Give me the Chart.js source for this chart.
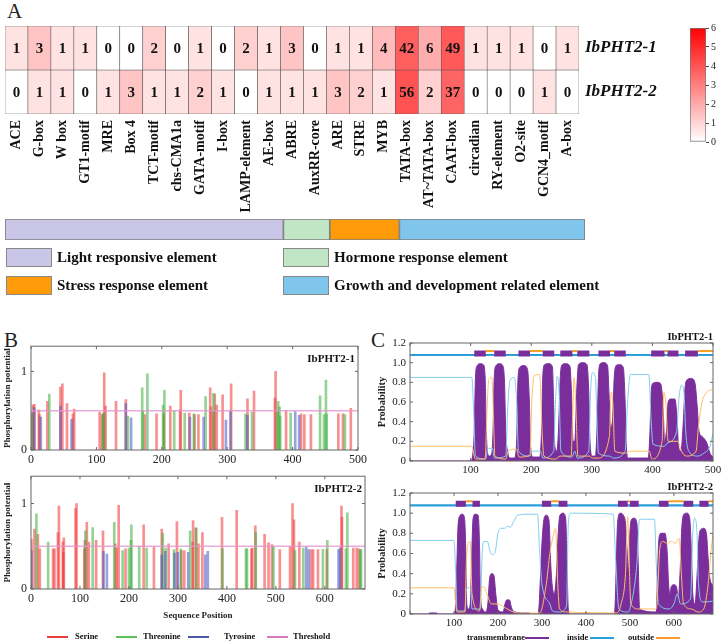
<!DOCTYPE html>
<html>
<head>
<meta charset="utf-8">
<script src="https://cdn.jsdelivr.net/npm/chart.js@4.4.1/dist/chart.umd.min.js"></script>
<style>
  body { margin: 0; background: #fff; font-family: "Liberation Serif", serif; }
  #page { position: relative; width: 725px; height: 644px; overflow: hidden; }
  .box { position: absolute; }
  .panel { position: absolute; font-size: 21px; line-height: 21px; color: #222; }
  .lbl { position: absolute; font-weight: bold; white-space: nowrap; color: #111; }
  .sq { position: absolute; box-sizing: border-box; border: 1.5px solid #888; }
  .ln { position: absolute; height: 1.5px; }
</style>
</head>
<body>
<div id="page">
  <div class="panel" style="left:7px;top:1px">A</div>
  <div class="panel" style="left:4px;top:330px">B</div>
  <div class="panel" style="left:371px;top:330px">C</div>

  <div class="box" style="left:0;top:0;width:690px;height:222px"><canvas id="heat"></canvas></div>
  <div class="box" style="left:684px;top:20px;width:41px;height:130px"><canvas id="cbar"></canvas></div>
  <div class="box" style="left:0;top:212px;width:725px;height:34px"><canvas id="groups"></canvas></div>
  <div id="groupLegend"></div>

  <div class="box" style="left:0;top:335px;width:370px;height:135px"><canvas id="phos1"></canvas></div>
  <div class="box" style="left:0;top:465px;width:370px;height:160px"><canvas id="phos2"></canvas></div>
  <div id="phosLegend"></div>

  <div class="box" style="left:368px;top:330px;width:357px;height:150px"><canvas id="tm1"></canvas></div>
  <div class="box" style="left:368px;top:480px;width:357px;height:150px"><canvas id="tm2"></canvas></div>
  <div id="tmLegend"></div>
</div>

<script>
// ---------- A: cis-element heatmap ----------
var heatCols = ['ACE', 'G-box', 'W box', 'GT1-motif', 'MRE', 'Box 4', 'TCT-motif', 'chs-CMA1a', 'GATA-motif',
  'I-box', 'LAMP-element', 'AE-box', 'ABRE', 'AuxRR-core', 'ARE', 'STRE', 'MYB', 'TATA-box', 'AT~TATA-box',
  'CAAT-box', 'circadian', 'RY-element', 'O2-site', 'GCN4_motif', 'A-box']
var heatRows = ['IbPHT2-1', 'IbPHT2-2']
var counts1 = [1, 3, 1, 1, 0, 0, 2, 0, 1, 0, 2, 1, 3, 0, 1, 1, 4, 42, 6, 49, 1, 1, 1, 0, 1]
var counts2 = [0, 1, 1, 0, 1, 3, 1, 1, 2, 1, 0, 1, 1, 1, 3, 2, 1, 56, 2, 37, 0, 0, 0, 1, 0]
var colorMax = 6

var groupNames = ['Light responsive element', 'Hormone response element', 'Stress response element', 'Growth and development related element']
var groupSizes = [12, 2, 3, 8]
var groupColors = ['#c9c6e7', '#c1e6c6', '#ff9a08', '#80c5ec']

// ---------- B: phosphorylation sites [position, potential] ----------
var serine1 = [[1,0.47],[3,0.57],[5,0.58],[12,0.51],[13,0.45],[25,0.62],[45,0.8],[48,0.84],[55,0.59],[64,0.46],[66,0.52],
  [105,0.48],[109,0.45],[112,0.98],[114,0.56],[130,0.62],[145,0.64],[174,0.45],[192,0.46],[203,0.46],[213,0.56],
  [228,0.51],[229,0.76],[242,0.47],[250,0.45],[256,0.45],[274,0.79],[275,0.55],[279,0.49],[281,0.71],[284,0.57],
  [293,0.7],[306,0.84],[331,0.65],[341,0.75],[373,0.66],[374,1.0],[390,0.5],[413,0.46],[418,0.45],[428,0.45],
  [470,0.46],[477,0.46],[489,0.53]]
var threonine1 = [[2,0.46],[28,0.71],[110,0.46],[111,0.47],[148,0.43],[170,0.79],[171,0.5],[178,0.97],[202,0.57],
  [204,0.76],[219,0.5],[235,0.47],[249,0.46],[267,0.68],[279,0.72],[328,0.46],[338,0.48],[377,0.49],[378,0.62],
  [380,0.55],[381,0.43],[397,0.47],[442,0.69],[448,0.45],[451,0.89],[452,0.46],[480,0.45]]
var tyrosine1 = [[5,0.54],[15,0.42],[45,0.56],[62,0.39],[145,0.59],[153,0.41],[243,0.42],[264,0.42],[298,0.38],
  [305,0.5],[331,0.44],[404,0.49],[410,0.44]]

var serine2 = [[1,0.58],[7,0.7],[14,0.64],[18,0.47],[45,0.47],[48,0.47],[55,0.66],[57,0.97],[65,0.55],[66,0.43],
  [67,0.6],[91,0.94],[93,1.0],[109,0.47],[110,0.57],[114,0.78],[118,0.55],[133,0.57],[147,0.68],[172,0.53],
  [175,0.48],[179,0.98],[193,0.47],[230,0.75],[251,0.49],[267,0.7],[281,0.53],[298,0.79],[307,0.45],[313,0.45],
  [330,0.55],[331,0.8],[337,0.71],[342,0.53],[350,0.66],[390,0.84],[420,0.92],[450,0.47],[452,0.48],[458,0.74],
  [477,0.64],[485,0.54],[492,0.52],[508,0.46],[529,0.5],[534,1.0],[537,0.81],[548,0.55],[572,0.46],[576,0.46],
  [586,0.46],[604,0.46],[634,0.97],[635,0.84],[658,0.48],[665,0.48],[670,0.47]]
var threonine2 = [[11,0.88],[35,0.55],[111,0.68],[126,0.72],[170,0.78],[187,0.45],[200,0.48],[204,0.57],[205,0.75],
  [221,0.5],[236,0.48],[269,0.65],[275,0.48],[292,0.46],[306,0.47],[325,0.68],[337,0.72],[391,0.47],[439,0.47],
  [441,0.47],[459,0.66],[495,0.5],[539,0.45],[556,0.48],[596,0.46],[605,0.57],[643,0.47],[646,0.89],[672,0.46],[674,0.46]]
var tyrosine2 = [[1,0.45],[148,0.44],[155,0.41],[267,0.4],[274,0.44],[293,0.42],[300,0.43],[321,0.43],[356,0.4],
  [361,0.44],[562,0.49],[567,0.46],[628,0.46],[631,0.48]]
var threshold = 0.5
var phosNames = ['Serine', 'Threonine', 'Tyrosine', 'Threshold']

// ---------- C: transmembrane prediction [position, probability] ----------
var tmProb1 = [[0,0],[100,0],[103,0.04],[106,0.3],[108,0.85],[111,0.97],[116,0.99],[121,0.98],[124,0.85],[126,0.3],
  [128,0.08],[131,0.05],[135,0.08],[137,0.3],[139,0.85],[142,0.97],[148,0.99],[153,0.97],[156,0.8],[158,0.3],
  [161,0.1],[165,0.03],[172,0.03],[176,0.2],[178,0.8],[181,0.95],[188,0.97],[194,0.93],[197,0.6],[199,0.15],
  [203,0.04],[214,0.04],[217,0.3],[219,0.85],[222,0.98],[229,0.99],[235,0.96],[237,0.6],[239,0.15],[242,0.1],
  [245,0.3],[248,0.85],[251,0.98],[257,0.99],[264,0.96],[267,0.6],[269,0.2],[272,0.2],[275,0.7],[278,0.98],
  [285,1.0],[292,0.98],[295,0.7],[297,0.2],[301,0.05],[306,0.05],[309,0.4],[311,0.85],[314,0.99],[320,1.0],
  [326,0.97],[329,0.6],[331,0.35],[334,0.4],[337,0.85],[340,0.97],[346,0.98],[352,0.95],[355,0.6],[357,0.15],
  [360,0.03],[393,0.03],[396,0.3],[398,0.7],[401,0.79],[408,0.8],[414,0.78],[418,0.5],[420,0.2],[423,0.3],
  [426,0.6],[430,0.63],[437,0.63],[441,0.4],[443,0.15],[447,0.1],[451,0.4],[454,0.75],[458,0.83],[464,0.84],
  [470,0.8],[474,0.55],[477,0.3],[482,0.25],[490,0.18],[495,0.08],[500,0.04]]
var inside1 = [[0,0.85],[102,0.85],[105,0.5],[108,0.05],[125,0.02],[128,0.12],[136,0.13],[139,0.03],[158,0.05],
  [161,0.5],[165,0.82],[172,0.85],[176,0.6],[179,0.1],[198,0.05],[201,0.1],[216,0.1],[219,0.03],[237,0.1],
  [240,0.6],[243,0.86],[246,0.7],[249,0.1],[267,0.04],[272,0.1],[276,0.03],[295,0.1],[298,0.7],[301,0.9],
  [306,0.85],[309,0.3],[311,0.08],[329,0.05],[336,0.03],[355,0.1],[359,0.6],[364,0.88],[394,0.88],[398,0.4],
  [401,0.17],[420,0.15],[424,0.18],[440,0.3],[444,0.65],[448,0.77],[452,0.7],[455,0.3],[460,0.1],[475,0.05],
  [485,0.08],[495,0.15],[500,0.28]]
var outside1 = [[0,0.15],[102,0.15],[105,0.08],[108,0.02],[124,0.02],[127,0.5],[130,0.83],[135,0.85],[138,0.4],
  [140,0.05],[158,0.02],[162,0.1],[176,0.12],[180,0.04],[198,0.06],[201,0.6],[205,0.87],[214,0.88],[218,0.3],
  [221,0.05],[240,0.02],[248,0.05],[266,0.05],[268,0.4],[271,0.85],[274,0.5],[277,0.05],[296,0.05],[301,0.03],
  [310,0.03],[329,0.25],[332,0.7],[335,0.55],[338,0.1],[356,0.08],[362,0.1],[395,0.1],[399,0.02],[416,0.2],
  [419,0.7],[422,0.6],[426,0.2],[442,0.2],[448,0.1],[456,0.05],[472,0.1],[476,0.35],[482,0.6],[490,0.7],[500,0.73]]
var tmSegs1 = [[106,125],[139,158],[179,198],[219,238],[248,268],[276,296],[311,330],[337,356],[398,420],[425,443],[454,475]]
var outSegs1 = [[125,139],[198,219],[268,276],[330,337],[420,425],[475,500]]
var length1 = 500

var tmProb2 = [[0,0],[40,0],[45,0.01],[60,0.01],[65,0],[100,0],[103,0.05],[106,0.4],[109,0.85],[113,0.97],
  [119,0.99],[124,0.95],[127,0.6],[129,0.1],[133,0.05],[137,0.1],[140,0.5],[143,0.93],[148,0.99],[155,0.98],
  [158,0.7],[160,0.2],[165,0.05],[172,0.02],[177,0.1],[181,0.35],[186,0.4],[191,0.38],[195,0.2],[200,0.04],
  [212,0.02],[216,0.1],[220,0.14],[226,0.14],[231,0.06],[238,0.02],[265,0.01],[270,0.01],[275,0],[290,0],
  [293,0.05],[297,0.4],[300,0.7],[305,0.95],[310,0.98],[316,0.93],[320,0.5],[323,0.3],[328,0.2],[333,0.4],
  [337,0.8],[341,0.98],[348,1.0],[354,0.95],[357,0.5],[360,0.05],[365,0],[465,0],[468,0.3],[472,0.9],[478,1.0],
  [485,0.98],[490,0.9],[494,0.6],[497,0.4],[500,0.8],[504,0.94],[510,0.95],[516,0.9],[519,0.5],[522,0.05],
  [560,0.02],[563,0.4],[566,0.75],[571,0.8],[580,0.8],[585,0.6],[588,0.3],[591,0.2],[594,0.27],[600,0.29],
  [606,0.27],[610,0.15],[614,0.4],[618,0.85],[623,0.99],[630,1.0],[636,0.95],[640,0.6],[643,0.2],[648,0.1],
  [653,0.4],[657,0.75],[662,0.84],[668,0.85],[674,0.8],[678,0.55],[682,0.35],[686,0.3],[689,0.28]]
var inside2 = [[0,0.73],[100,0.73],[104,0.4],[107,0.03],[125,0.03],[128,0.25],[138,0.26],[141,0.05],[160,0.05],
  [164,0.6],[168,0.72],[176,0.72],[182,0.62],[188,0.59],[194,0.62],[200,0.8],[207,0.85],[215,0.85],[222,0.87],
  [228,0.86],[236,0.92],[245,0.98],[270,0.99],[290,0.99],[295,0.6],[300,0.3],[318,0.1],[324,0.03],[340,0.02],
  [356,0.08],[360,0.9],[365,1.0],[462,0.99],[468,0.5],[475,0.05],[495,0.02],[500,0.05],[516,0.5],[522,0.94],
  [556,0.94],[560,0.5],[565,0.1],[590,0.05],[600,0.1],[608,0.2],[615,0.1],[638,0.15],[643,0.8],[647,0.95],
  [652,0.85],[656,0.3],[665,0.12],[675,0.12],[689,0.13]]
var outside2 = [[0,0.26],[100,0.26],[104,0.1],[107,0.02],[125,0.02],[128,0.5],[132,0.7],[137,0.72],[141,0.2],
  [158,0.03],[163,0.27],[168,0.27],[175,0.2],[185,0.1],[198,0.1],[210,0.08],[225,0.04],[245,0.01],[295,0.01],
  [310,0.3],[318,0.6],[326,0.78],[331,0.85],[336,0.3],[340,0.05],[356,0.02],[470,0.01],[480,0.1],[490,0.4],
  [495,0.97],[498,0.6],[502,0.1],[520,0.05],[560,0.05],[564,0.3],[568,0.65],[575,0.72],[585,0.7],[595,0.72],
  [603,0.7],[612,0.75],[617,0.4],[622,0.1],[640,0.05],[655,0.02],[668,0.05],[678,0.3],[684,0.6],[689,0.8]]
var tmSegs2 = [[104,127],[142,159],[300,321],[338,358],[473,495],[500,520],[566,588],[622,644],[658,679]]
var outSegs2 = [[127,142],[321,338],[495,500],[588,622],[679,689]]
var length2 = 689
var tmNames = ['transmembrane', 'inside', 'outside']

// ---------- shared settings ----------
Chart.defaults.font.family = '"Liberation Serif", serif'
Chart.defaults.color = '#222'
Chart.defaults.animation = false
Chart.defaults.plugins.legend.display = false
Chart.defaults.plugins.tooltip.enabled = false
Chart.defaults.events = []
Chart.defaults.maintainAspectRatio = false

var PURPLE = '#7a2e9b'

function heatColor(v) {
  var t = Math.min(Math.log(v + 1) / colorMax, 1)
  var g = Math.round(255 - 255 * t)
  return 'rgb(255,' + g + ',' + g + ')'
}
function xy(arr) { return arr.map(p => ({ x: p[0], y: p[1] })) }

// writes the count into each heatmap cell
var cellText = {
  id: 'cellText',
  afterDatasetsDraw(chart) {
    var ctx = chart.ctx
    ctx.save()
    ctx.font = 'bold 15px "Liberation Serif"'
    ctx.fillStyle = '#111'
    ctx.textAlign = 'center'
    ctx.textBaseline = 'middle'
    var rows = [counts1, counts2]
    chart.data.datasets.forEach((ds, di) => {
      chart.getDatasetMeta(di).data.forEach((bar, i) => {
        ctx.fillText(rows[di][i], bar.x, (bar.y + bar.base) / 2 + 1)
      })
    })
    ctx.restore()
  }
}

// box around the plot with inward ticks, plus a name in a corner
var frame = {
  id: 'frame',
  afterDraw(chart, args, opts) {
    var ctx = chart.ctx, a = chart.chartArea, sx = chart.scales.x, sy = chart.scales.y
    ctx.save()
    ctx.strokeStyle = '#666'
    ctx.lineWidth = 1
    ctx.strokeRect(a.left, a.top, a.right - a.left, a.bottom - a.top)
    ctx.beginPath()
    sx.ticks.forEach(t => {
      var px = sx.getPixelForValue(t.value)
      ctx.moveTo(px, a.bottom); ctx.lineTo(px, a.bottom - 3)
      ctx.moveTo(px, a.top); ctx.lineTo(px, a.top + 3)
    })
    sy.ticks.forEach(t => {
      var py = sy.getPixelForValue(t.value)
      ctx.moveTo(a.left, py); ctx.lineTo(a.left + 3, py)
      ctx.moveTo(a.right, py); ctx.lineTo(a.right - 3, py)
    })
    ctx.stroke()
    if (opts.name) {
      ctx.font = 'bold ' + opts.size + 'px "Liberation Serif"'
      ctx.fillStyle = '#111'
      ctx.textAlign = 'right'
      ctx.textBaseline = 'middle'
      ctx.fillText(opts.name, a.right - opts.dx, a.top + opts.dy)
    }
    ctx.restore()
  }
}

// ---------- A: heatmap ----------
new Chart(document.getElementById('heat'), {
  type: 'bar',
  data: {
    labels: heatCols,
    datasets: [counts1, counts2].map((vals, r) => ({
      data: vals.map(() => [1 - r, 2 - r]),
      backgroundColor: vals.map(heatColor),
      borderColor: '#555',
      borderWidth: 0.6,
      borderSkipped: false,
      barPercentage: 1,
      categoryPercentage: 1,
      grouped: false
    }))
  },
  options: {
    layout: { padding: { left: 5, top: 26 } },
    scales: {
      x: {
        grid: { display: false, drawTicks: false },
        border: { display: false },
        ticks: { minRotation: 90, maxRotation: 90, autoSkip: false, padding: 6, color: '#111', font: { size: 14, weight: 'bold' } },
        afterFit: s => { s.height = 108 }
      },
      y: {
        position: 'right', min: 0, max: 2,
        grid: { display: false, drawTicks: false },
        border: { display: false },
        afterBuildTicks: s => { s.ticks = [{ value: 1.5 }, { value: 0.5 }] },
        ticks: { padding: 6, color: '#111', font: { size: 17, weight: 'bold', style: 'italic' }, callback: v => v > 1 ? heatRows[0] : heatRows[1] },
        afterFit: s => { s.width = 111 }
      }
    }
  },
  plugins: [cellText]
})

// colour bar
new Chart(document.getElementById('cbar'), {
  type: 'bar',
  data: {
    labels: [''],
    datasets: [{
      data: [[0, colorMax]],
      backgroundColor: c => {
        var a = c.chart.chartArea
        if (!a) return '#fff'
        var g = c.chart.ctx.createLinearGradient(0, a.bottom, 0, a.top)
        g.addColorStop(0, '#ffffff')
        g.addColorStop(1, '#ff0000')
        return g
      },
      borderColor: '#777', borderWidth: 1, borderSkipped: false,
      barPercentage: 1, categoryPercentage: 1
    }]
  },
  options: {
    layout: { padding: { left: 6, top: 7, bottom: 7 } },
    scales: {
      x: { display: false },
      y: {
        position: 'right', min: 0, max: colorMax,
        grid: { drawOnChartArea: false, tickLength: 3, color: '#444' },
        border: { display: false },
        ticks: { stepSize: 1, padding: 2, font: { size: 10 } },
        afterFit: s => { s.width = 19 }
      }
    }
  }
})

// element-group bar
new Chart(document.getElementById('groups'), {
  type: 'bar',
  data: {
    labels: [''],
    datasets: groupSizes.map((n, i) => ({
      data: [n], backgroundColor: groupColors[i], borderColor: '#808080', borderWidth: 1.2,
      borderSkipped: false, barPercentage: 1, categoryPercentage: 1
    }))
  },
  options: {
    indexAxis: 'y',
    layout: { padding: { left: 5, right: 140, top: 7, bottom: 6 } },
    scales: {
      x: { display: false, stacked: true, min: 0, max: groupSizes.reduce((a, b) => a + b, 0) },
      y: { display: false, stacked: true }
    }
  }
})

var legendSpots = [[6, 248], [283, 248], [6, 276], [283, 276]]
var gl = document.getElementById('groupLegend')
groupNames.forEach((name, i) => {
  var p = legendSpots[i]
  gl.insertAdjacentHTML('beforeend',
    '<div class="sq" style="left:' + p[0] + 'px;top:' + p[1] + 'px;width:46px;height:19px;background:' + groupColors[i] + '"></div>' +
    '<div class="lbl" style="left:' + (p[0] + 51) + 'px;top:' + p[1] + 'px;font-size:15px;line-height:19px">' + name + '</div>')
})

// ---------- B: phosphorylation sites ----------
function phosChart(id, ser, thr, tyr, xMax, name, withTitle, bottomH) {
  return new Chart(document.getElementById(id), {
    type: 'bar',
    data: {
      datasets: [
        { label: phosNames[3], type: 'line', data: [{ x: 0, y: threshold }, { x: xMax, y: threshold }],
          borderColor: 'rgba(228,150,205,0.8)', borderWidth: 1.5, pointRadius: 0, order: 0 },
        { label: phosNames[2], data: xy(tyr), backgroundColor: 'rgba(70,85,195,0.55)', order: 1 },
        { label: phosNames[1], data: xy(thr), backgroundColor: 'rgba(60,175,60,0.55)', order: 2 },
        { label: phosNames[0], data: xy(ser), backgroundColor: 'rgba(240,55,55,0.55)', order: 3 }
      ]
    },
    options: {
      datasets: { bar: { barThickness: 2, grouped: false } },
      layout: { padding: { top: 8, right: 5 } },
      plugins: { frame: { name: name, size: 11, dx: 3, dy: 13 } },
      scales: {
        x: {
          type: 'linear', min: 0, max: xMax, offset: false,
          grid: { display: false, drawTicks: false, offset: false }, border: { display: false },
          ticks: { stepSize: 100, includeBounds: false, padding: 3, font: { size: 12 } },
          title: { display: withTitle, text: 'Sequence Position', font: { size: 9, weight: 'bold' }, padding: { top: 4, bottom: 4 } },
          afterFit: s => { s.height = bottomH }
        },
        y: {
          min: 0, max: 1.32,
          grid: { display: false, drawTicks: false }, border: { display: false },
          ticks: { stepSize: 1, includeBounds: false, padding: 4, font: { size: 12 } },
          title: { display: true, text: 'Phosphorylation potential', font: { size: 9, weight: 'bold' }, padding: { top: 2, bottom: 2 } },
          afterFit: s => { s.width = 31 }
        }
      }
    },
    plugins: [frame]
  })
}
phosChart('phos1', serine1, threonine1, tyrosine1, length1, heatRows[0], false, 20)
phosChart('phos2', serine2, threonine2, tyrosine2, 682, heatRows[1], true, 36)

var phosLegendColors = ['#e8403d', '#5cbf5c', '#4a5aa8', '#d879be']
var phosLegendX = [[47, 75], [116, 143], [188, 224], [267, 293]]
var pl = document.getElementById('phosLegend')
phosNames.forEach((name, i) => {
  var p = phosLegendX[i]
  pl.insertAdjacentHTML('beforeend',
    '<div class="ln" style="left:' + p[0] + 'px;top:636px;width:21px;background:' + phosLegendColors[i] + '"></div>' +
    '<div class="lbl" style="left:' + p[1] + 'px;top:630px;font-size:8.5px;line-height:12px">' + name + '</div>')
})

// ---------- C: transmembrane topology ----------
function band(segs, y) {
  var out = []
  segs.forEach(s => { out.push({ x: s[0], y: y }, { x: s[1], y: y }, { x: s[1], y: null }) })
  return out
}
function tmChart(id, tm, ins, outs, tmSegs, outSegs, xMax, name, bottomH) {
  return new Chart(document.getElementById(id), {
    type: 'line',
    data: {
      datasets: [
        { label: 'TM band', data: band(tmSegs, 1.093), borderColor: PURPLE, borderWidth: 6, borderCapStyle: 'butt', pointRadius: 0, order: 0 },
        { label: 'outside band', data: band(outSegs, 1.118), borderColor: '#f7a023', borderWidth: 2, pointRadius: 0, order: 1 },
        { label: 'inside band', data: [{ x: 0, y: 1.078 }, { x: xMax, y: 1.078 }], borderColor: '#2a9fd9', borderWidth: 2.2, pointRadius: 0, order: 2 },
        { label: tmNames[2], data: xy(outs), borderColor: '#ffbf66', borderWidth: 1, pointRadius: 0, cubicInterpolationMode: 'monotone', order: 3 },
        { label: tmNames[1], data: xy(ins), borderColor: '#82cdef', borderWidth: 1, pointRadius: 0, cubicInterpolationMode: 'monotone', order: 4 },
        { label: tmNames[0], data: xy(tm), borderColor: PURPLE, backgroundColor: PURPLE, fill: 'origin', borderWidth: 1,
          pointRadius: 0, cubicInterpolationMode: 'monotone', order: 5 }
      ]
    },
    options: {
      layout: { padding: { top: 13, right: 12 } },
      plugins: { frame: { name: name, size: 10.5, dx: 0, dy: -6 } },
      scales: {
        x: {
          type: 'linear', min: 0, max: xMax,
          grid: { display: false, drawTicks: false }, border: { display: false },
          ticks: { stepSize: 100, includeBounds: false, padding: 3, font: { size: 11 }, callback: v => v === 0 ? '' : v },
          afterFit: s => { s.height = bottomH }
        },
        y: {
          min: 0, max: 1.2,
          grid: { display: false, drawTicks: false }, border: { display: false },
          ticks: { stepSize: 0.2, includeBounds: false, padding: 4, font: { size: 11 }, callback: v => v === 0 ? '0' : v.toFixed(1) },
          title: { display: true, text: 'Probability', font: { size: 10.5, weight: 'bold' }, padding: { top: 8, bottom: 2 } },
          afterFit: s => { s.width = 42 }
        }
      }
    },
    plugins: [frame]
  })
}
tmChart('tm1', tmProb1, inside1, outside1, tmSegs1, outSegs1, length1, heatRows[0], 19)
tmChart('tm2', tmProb2, inside2, outside2, tmSegs2, outSegs2, length2, heatRows[1], 16)

var tmLegendColors = [PURPLE, '#2a9fd9', '#ff9a2e']
var tmLegendX = [[525, 467], [590, 567], [656, 628]]
var tl = document.getElementById('tmLegend')
tmNames.forEach((name, i) => {
  var p = tmLegendX[i]
  tl.insertAdjacentHTML('beforeend',
    '<div class="ln" style="left:' + p[0] + 'px;top:637px;width:24px;background:' + tmLegendColors[i] + '"></div>' +
    '<div class="lbl" style="left:' + p[1] + 'px;top:631px;font-size:8.5px;line-height:12px">' + name + '</div>')
})
</script>
</body>
</html>
